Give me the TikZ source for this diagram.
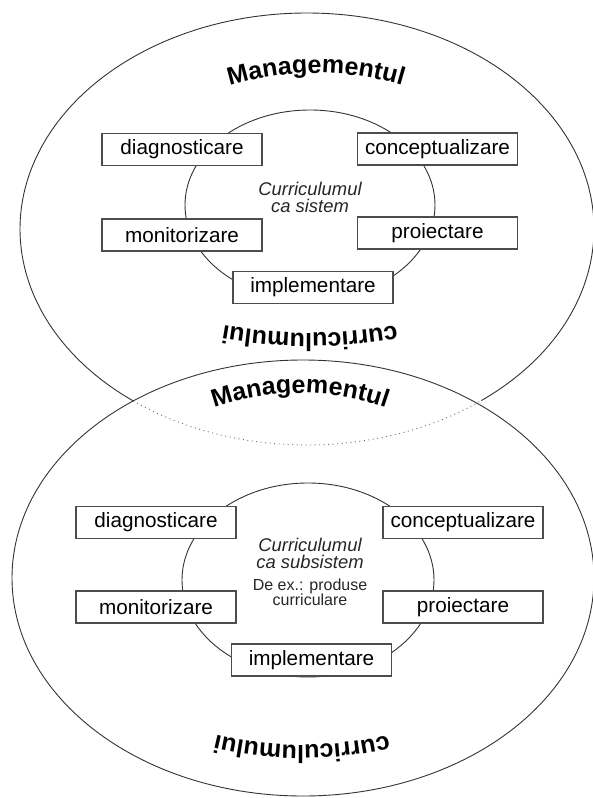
\documentclass[tikz,border=0pt]{standalone}
\usepackage{fontspec}
\setmainfont{Liberation Sans}
\usetikzlibrary{decorations.text}
\begin{document}
\begin{tikzpicture}[x=1pt,y=1pt,
  outline/.style={draw=black!80, line width=0.9pt},
  dotline/.style={draw=black!55, line width=0.9pt, dash pattern=on 1pt off 3.5pt},
  box/.style={draw=black!70, line width=1.1pt, fill=white, minimum width=160pt,
    minimum height=32pt, inner sep=0pt, font=\fontsize{20.7}{24}\selectfont},
  midtext/.style={align=center, inner sep=0pt, font=\fontsize{18.4}{17}\selectfont\itshape, text=black!85},
  smalltext/.style={align=center, inner sep=0pt, font=\fontsize{16}{15}\selectfont, text=black!85},
  arctext/.style={decorate, decoration={text along path, text align=center,
    text={|\fontsize{25}{25}\selectfont\bfseries|#1}}}
]
\useasboundingbox (0,0) rectangle (593,-798);

% ---------- outer ellipses ----------
\coordinate (c1) at (307,-229);
\coordinate (c2) at (303,-578);
\draw[outline] (c1) ++(307.4:287pt and 216pt)
  arc[start angle=307.4, end angle=592.7, x radius=287pt, y radius=216pt];
\draw[dotline] (c1) ++(232.7:287pt and 216pt)
  arc[start angle=232.7, end angle=307.4, x radius=287pt, y radius=216pt];
\draw[outline] (c2) ellipse[x radius=291pt, y radius=218pt];

% ---------- inner ellipses ----------
\draw[outline] (310,-205) ellipse[x radius=125pt, y radius=95pt];
\draw[outline] (308,-580) ellipse[x radius=126pt, y radius=97pt];

% ---------- curved titles ----------
\path[arctext=Managementul] (316,-373) ++(125:300pt) arc[start angle=125, end angle=55, radius=300pt];
\path[arctext=curriculumului] (310,167) ++(-70:500pt) arc[start angle=-70, end angle=-110, radius=500pt];
\path[arctext=Managementul] (300,-653) ++(125:260pt) arc[start angle=125, end angle=55, radius=260pt];
\path[arctext=curriculumului] (302,-371) ++(-65:374pt) arc[start angle=-65, end angle=-115, radius=374pt];

% ---------- upper system ----------
\node[box] (d1) at (182,-149.5) {diagnosticare};
\node[box] (k1) at (437.5,-149) {conceptualizare};
\node[box] (m1) at (182,-235) {monitorizare};
\node[box] (p1) at (437.5,-233) {proiectare};
\node[box] (i1) at (313,-287.5) {implementare};
\node[midtext] (t1) at (310,-197) {Curriculumul\\ca sistem};

% ---------- lower system ----------
\node[box] (d2) at (156,-522.5) {diagnosticare};
\node[box] (k2) at (463,-522.5) {conceptualizare};
\node[box] (m2) at (156,-607) {monitorizare};
\node[box] (p2) at (463,-607) {proiectare};
\node[box] (i2) at (311.5,-660) {implementare};
\node[midtext] (t2) at (310,-553) {Curriculumul\\ca subsistem};
\node[smalltext] (e2) at (310,-592) {De ex.: produse\\curriculare};
\end{tikzpicture}
\end{document}
